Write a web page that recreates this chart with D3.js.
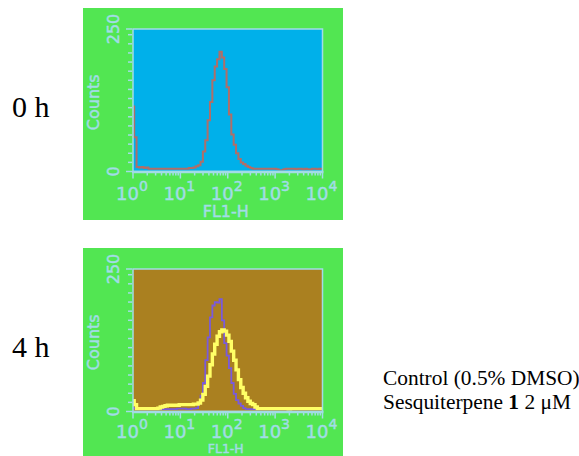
<!DOCTYPE html>
<html><head><meta charset="utf-8">
<script src="https://cdn.jsdelivr.net/npm/d3@7"></script>
<style>
html,body{margin:0;padding:0;background:#fff;}
svg{display:block;}
</style></head>
<body>
<svg id="chart" width="579" height="456"></svg>
<script>
// ---- data ----
// bin centres in decades (log10 FL1-H)
const binDecades = [0,0.05,0.1,0.15,0.2,0.25,0.3,0.35,0.4,0.45,0.5,0.55,0.6,0.65,0.7,0.75,0.8,0.85,0.9,0.95,
  1,1.05,1.1,1.15,1.2,1.25,1.3,1.35,1.4,1.45,1.5,1.55,1.6,1.65,1.7,1.75,1.8,1.85,1.9,1.95,
  2,2.05,2.1,2.15,2.2,2.25,2.3,2.35,2.4,2.45,2.5,2.55,2.6,2.65,2.7,2.75,2.8,2.85,2.9,2.95,
  3,3.05,3.1,3.15,3.2,3.25,3.3,3.35,3.4,3.45,3.5,3.55,3.6,3.65,3.7,3.75,3.8,3.85,3.9,3.95,4];
const control0h = [114,60,8,7,8,6,7,5,5,5,5,5,5,5,5,5,5,5,5,5,
  5,5,5,5,6,6,7,9,11,17,35,55,90,122,160,184,197,210,200,180,
  148,100,65,47,32,22,16,13,10,8,6,5,5,5,5,5,5,5,5,5,
  5,4,2,2,4,5,5,5,5,4,5,5,3,5,4,3,5,5,4,5,5];
const control4h = [6,5,4,4,4,4,4,4,4,4,4,4,4,4,4,4,4,4,4,5,
  5,5,5,4,4,5,5,6,14,28,50,90,130,165,186,192,191,197,160,120,
  98,76,50,31,20,14,10,6,4,4,4,4,4,4,4,4,4,4,4,4,
  4,4,4,5,4,4,5,6,4,4,5,4,6,4,5,4,5,6,4,5,5];
const treated4h = [19,12,5,5,5,5,5,5,5,5,5,6,8,9,10,11,11,11,11,11,
  12,12,12,12,12,12,13,13,15,20,30,44,62,82,101,118,132,140,143,141,
  134,123,106,90,73,56,42,32,24,18,14,12,8,5,5,5,5,5,5,5,
  5,5,5,5,5,5,4,5,5,5,5,5,5,5,5,5,5,5,5,5,5];
const timeLabels = ["0 h", "4 h"];
const legendLabels = ["Control (0.5% DMSO)", "Sesquiterpene 1 2 μM"];
const yTickLabels = ["0", "250"];
const xTickExponents = [0, 1, 2, 3, 4];

// ---- layout ----
const svg = d3.select("#chart");
const C = {green:"#52E652", axis:"#A2DCE6", blue:"#00B0EA", brown:"#AA8020",
           red:"#B06E68", purple:"#7A5ADC", yellow:"#FFFF66"};
const panelX = 83, panelW = 260, panelH = 212;
const plotL = 133, plotR = 322.5, plotTopOff = 21, plotH = 142.5;

const x = d3.scaleLinear().domain([0,4]).range([plotL, plotR]);

const panels = [
  {top:8, label:timeLabels[0], bg:C.blue, tickOff:28, xlabOff:45, xlabSize:16,
   series:[{values:control0h, color:C.red, width:2}]},
  {top:248, label:timeLabels[1], bg:C.brown, tickOff:26, xlabOff:41.5, xlabSize:12.5,
   series:[{values:control4h, color:C.purple, width:1.8},
           {values:treated4h, color:C.yellow, width:3.4}]}
];

const axisFont = "'DejaVu Sans', Verdana, sans-serif";
function axisText(sel, size) {
  return sel.attr("fill", C.axis).attr("stroke", C.axis).attr("stroke-width", 0.45)
    .style("font-family", axisFont).style("font-size", size + "px");
}

panels.forEach((p, pi) => {
  const g = svg.append("g");
  g.append("rect").attr("x", panelX).attr("y", p.top).attr("width", panelW).attr("height", panelH)
    .attr("fill", C.green);
  const top = p.top + plotTopOff, bot = top + plotH;
  const y = d3.scaleLinear().domain([0,250]).range([bot, top]);

  g.append("rect").attr("x", plotL).attr("y", top).attr("width", plotR - plotL).attr("height", plotH)
    .attr("fill", p.bg);

  const clipId = "clip" + pi;
  g.append("clipPath").attr("id", clipId).append("rect")
    .attr("x", plotL).attr("y", top - 2).attr("width", plotR - plotL).attr("height", plotH + 1);

  const line = d3.line().x((d,i) => x(binDecades[i])).y(d => y(d)).curve(d3.curveStep);
  p.series.forEach(s => {
    g.append("path").datum(s.values).attr("d", line).attr("fill", "none")
      .attr("stroke", s.color).attr("stroke-width", s.width).attr("stroke-linejoin", "miter")
      .attr("clip-path", `url(#${clipId})`);
  });

  // border
  g.append("rect").attr("x", plotL).attr("y", top).attr("width", plotR - plotL).attr("height", plotH)
    .attr("fill", "none").attr("stroke", C.axis).attr("stroke-width", 1.5);
  g.append("line").attr("x1", plotL - 1).attr("x2", plotR + 1).attr("y1", bot + 0.5).attr("y2", bot + 0.5)
    .attr("stroke", C.axis).attr("stroke-width", 2.5);

  // y ticks
  const yTicks = d3.range(0, 250, 16).concat([250]);
  g.selectAll(".yt").data(yTicks).enter().append("line")
    .attr("x1", plotL - 1).attr("x2", d => (d === 0 || d === 250) ? plotL - 7 : plotL - 5)
    .attr("y1", d => y(d)).attr("y2", d => y(d))
    .attr("stroke", C.axis).attr("stroke-width", 1.5);

  // x ticks (log)
  const minor = [];
  for (let e = 0; e < 4; e++) for (let k = 2; k <= 9; k++) minor.push(e + Math.log10(k));
  g.selectAll(".xm").data(minor).enter().append("line")
    .attr("x1", d => x(d)).attr("x2", d => x(d)).attr("y1", bot + 1).attr("y2", bot + 4)
    .attr("stroke", C.axis).attr("stroke-width", 1.5);
  g.selectAll(".xM").data(xTickExponents).enter().append("line")
    .attr("x1", d => x(d)).attr("x2", d => x(d)).attr("y1", bot + 1).attr("y2", bot + 7)
    .attr("stroke", C.axis).attr("stroke-width", 1.5);

  // x tick labels
  xTickExponents.forEach(e => {
    const t = axisText(g.append("text").attr("x", x(e) - 1).attr("y", bot + p.tickOff)
      .attr("text-anchor", "middle"), 18);
    t.append("tspan").text("10");
    t.append("tspan").attr("dy", -9).style("font-size", "14px").text(String(e));
  });
  axisText(g.append("text").attr("x", (plotL + plotR) / 2 - 2).attr("y", bot + p.xlabOff)
    .attr("text-anchor", "middle"), p.xlabSize).text("FL1-H");

  // y labels
  [[0, yTickLabels[0]], [250, yTickLabels[1]]].forEach(([v, lab]) => {
    axisText(g.append("text").attr("transform", `translate(${plotL - 14},${y(v)}) rotate(-90)`)
      .attr("text-anchor", "middle"), 16).text(lab);
  });
  axisText(g.append("text").attr("transform", `translate(${plotL - 34},${(top + bot) / 2 + 2}) rotate(-90)`)
    .attr("text-anchor", "middle"), 16).text("Counts");

  // time label
  g.append("text").attr("x", 12).attr("y", p.top + 109).attr("fill", "#000")
    .style("font-family", "'Liberation Serif', 'Times New Roman', serif").style("font-size", "30px")
    .text(p.label);
});

// legend text
const serif = "'Liberation Serif', 'Times New Roman', serif";
svg.append("text").attr("x", 383).attr("y", 385).attr("fill", "#000")
  .style("font-family", serif).style("font-size", "21.4px").text(legendLabels[0]);
const l2 = svg.append("text").attr("x", 383).attr("y", 409).attr("fill", "#000")
  .style("font-family", serif).style("font-size", "21.4px");
l2.append("tspan").text("Sesquiterpene ");
l2.append("tspan").style("font-weight", "bold").text("1");
l2.append("tspan").text(" 2 μM");
</script>
</body></html>
